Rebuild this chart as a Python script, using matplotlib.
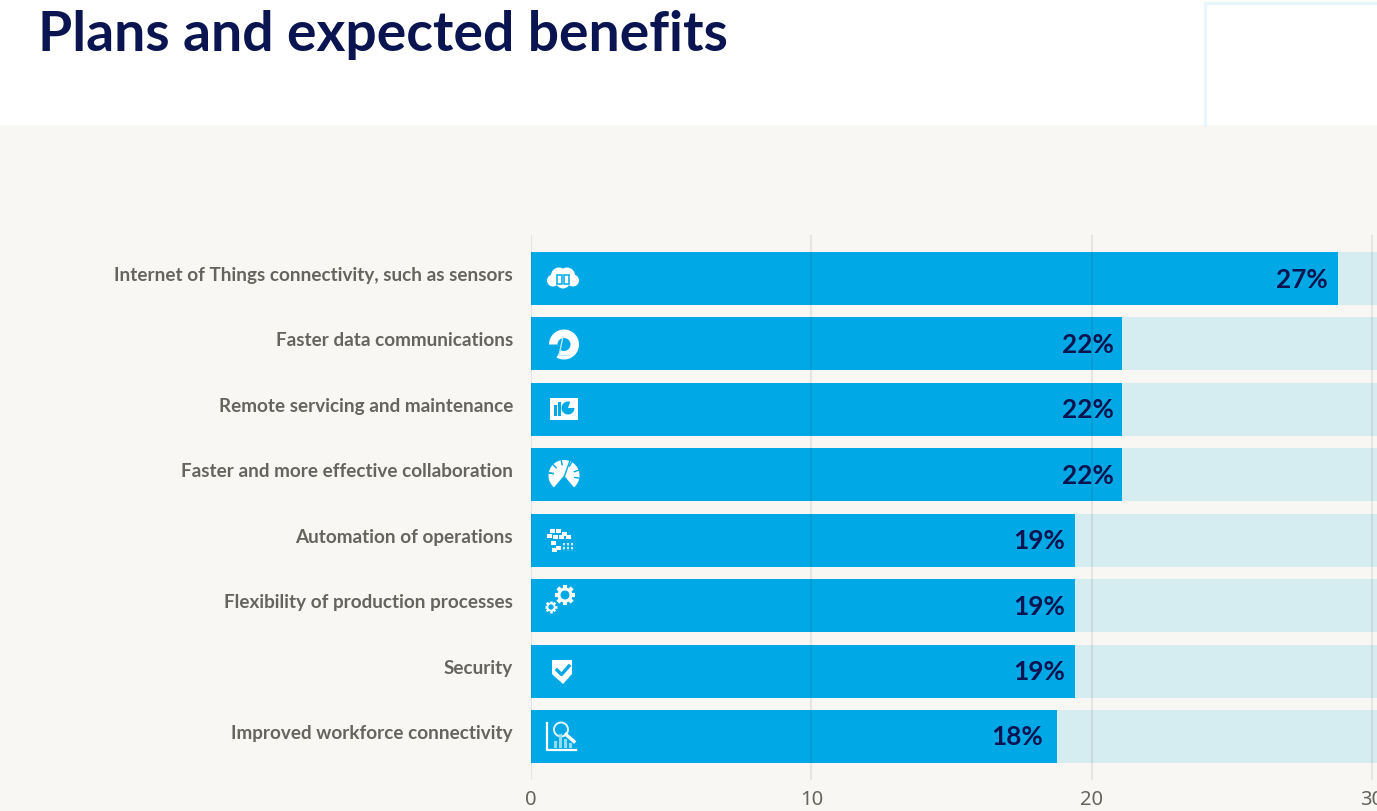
import matplotlib
matplotlib.use("Agg")
import matplotlib.patches as mpatches
import matplotlib.pyplot as plt
import numpy as np

# Values
categories = [
    "Internet of Things connectivity, such as sensors",
    "Faster data communications",
    "Remote servicing and maintenance",
    "Faster and more effective collaboration",
    "Automation of operations",
    "Flexibility of production processes",
    "Security",
    "Improved workforce connectivity",
]
bar_lengths = [28.8, 21.07, 21.07, 21.07, 19.4, 19.4, 19.4, 18.75]
track_lengths = [31, 31, 31, 31, 31, 31, 31, 31]
value_labels = ["27%", "22%", "22%", "22%", "19%", "19%", "19%", "18%"]
x_ticks = [0, 10, 20, 30]

W, H = 1377, 811
NAVY = "#0A1450"
BLUE = "#00A9E6"
TRACK = "#D5ECF0"
PAPER = "#F9F7F3"
GREY = "#66645F"
FONT = "Lato"

fig = plt.figure(figsize=(W / 100, H / 100), dpi=100, facecolor="white")

# full figure layer in pixel coords for background and icons
bg = fig.add_axes([0, 0, 1, 1], zorder=0)
bg.set_xlim(0, W)
bg.set_ylim(H, 0)
bg.axis("off")
bg.add_patch(mpatches.Rectangle((0, 125), W, H - 125, fc=PAPER, ec="none"))
bg.plot([1205, 1205, W], [125, 3, 3], color="#E6F6FB", lw=2.2)
bg.text(38, 35, "Plans and expected benefits", fontsize=39.8, fontweight="bold",
        family=FONT, color=NAVY, va="center", ha="left")

# chart axes, right side runs off the figure
left, right = 531, W
top, bottom = 235, 780
ax = fig.add_axes([left / W, 1 - bottom / H, (right - left) / W, (bottom - top) / H], zorder=1)
ax.patch.set_alpha(0)
y = np.arange(len(categories))
ax.barh(y, track_lengths, height=0.81, color=TRACK, zorder=1)
ax.barh(y, bar_lengths, height=0.81, color=BLUE, zorder=2)
ax.set_xlim(0, (right - left) / 28.03)
ax.set_ylim(7.665, -0.665)
ax.set_xticks(x_ticks)
ax.set_xticklabels([str(t) for t in x_ticks], fontsize=14.5, color=GREY, family="Noto Sans")
ax.set_yticks(y)
ax.set_yticklabels([])
ax.tick_params(axis="y", length=0)
ax.tick_params(axis="x", length=0, pad=7)
for s in ax.spines.values():
    s.set_visible(False)
ax.grid(axis="x", color="black", alpha=0.07, lw=1.5, zorder=3)
ax.set_axisbelow(False)
ax.grid(axis="y", visible=False)

# category labels sit a little above the bar centre
for i, name in enumerate(categories):
    ax.annotate(name, (0, i), xytext=(-18, 3), textcoords="offset pixels", ha="right", va="center",
                fontsize=13.6, fontweight="bold", color=GREY, family=FONT, annotation_clip=False)

# distance of the value text from the bar end differs a bit by row
for i, (v, lab) in enumerate(zip(bar_lengths, value_labels)):
    pad_px = {0: 11, 7: 14}.get(i, 8 if i < 4 else 10)
    ax.annotate(lab, (v, i), xytext=(-pad_px, -1), textcoords="offset pixels", ha="right", va="center",
                fontsize=18.8, fontweight="bold", color=NAVY, family=FONT, zorder=4)

# icon layer
ic = fig.add_axes([0, 0, 1, 1], zorder=2)
ic.set_xlim(0, W)
ic.set_ylim(H, 0)
ic.axis("off")
ic.patch.set_alpha(0)
white = dict(fc="white", ec="none")


def draw_cloud(cx, cy):
    for dx, dy, r in [(-10, 2, 6), (10, 2, 6), (-4, -3, 8), (4, -3, 8), (0, 3, 7)]:
        ic.add_patch(mpatches.Circle((cx + dx, cy + dy), r, **white))
    ic.add_patch(mpatches.Rectangle((cx - 6, cy - 4), 5, 9, fc="none", ec=BLUE, lw=1.1))
    ic.add_patch(mpatches.Rectangle((cx + 1, cy - 4), 5, 9, fc="none", ec=BLUE, lw=1.1))


def draw_ring(cx, cy):
    ic.add_patch(mpatches.Wedge((cx, cy + 1), 15, 180, 480, width=8.5, **white))
    ic.plot([cx - 1, cx - 5, cx + 5], [cy - 7, cy + 12, cy + 12], color="#BFEAF8", lw=1)


def draw_panel(cx, cy):
    ic.add_patch(mpatches.Rectangle((cx - 14, cy - 11), 28, 22, **white))
    ic.add_patch(mpatches.Rectangle((cx - 10, cy - 4), 2.5, 11, fc=BLUE, ec="none"))
    ic.add_patch(mpatches.Rectangle((cx - 6, cy - 7), 2.5, 14, fc=BLUE, ec="none"))
    ic.add_patch(mpatches.Wedge((cx + 4, cy - 1), 6.5, 0, 290, fc=BLUE, ec="none"))


def draw_gauge(cx, cy):
    ic.add_patch(mpatches.Wedge((cx, cy + 1), 15.5, 130, 410, **white))
    ic.add_patch(mpatches.Polygon([(cx - 7, cy + 16), (cx - 1, cy + 6), (cx + 1, cy + 6), (cx + 7, cy + 16)],
                                  fc=BLUE, ec="none"))
    ic.plot([cx, cx + 6], [cy + 3, cy - 14], color=BLUE, lw=1)
    for a in np.radians([-170, -135, -100, -60, -20, 10, 190]):
        ic.plot([cx + 11 * np.cos(a), cx + 15 * np.cos(a)],
                [cy + 1 + 11 * np.sin(a), cy + 1 + 15 * np.sin(a)], color=BLUE, lw=1)


def draw_blocks(cx, cy):
    for dx, dy in [(-7, -9), (-1, -9), (5, -6), (-10, -4), (-4, -3), (2, -3), (9, -3), (-6, 3), (-1, 8), (-5, 10)]:
        ic.add_patch(mpatches.Rectangle((cx + dx - 2, cy + dy - 2), 4.5, 4.5, **white))
    for dx in (5, 9, 13):
        ic.plot([cx + dx, cx + dx], [cy + 3, cy + 11], color="#D8F2FB", lw=1.4, ls=(0, (1.2, 0.8)))


def draw_gear(cx, cy, r):
    for a in np.radians(np.arange(0, 360, 45)):
        ic.plot([cx, cx + r * 1.35 * np.cos(a)], [cy, cy + r * 1.35 * np.sin(a)],
                color="white", lw=r * 0.4, solid_capstyle="butt", zorder=1)
    ic.add_patch(mpatches.Circle((cx, cy), r, zorder=2, **white))
    ic.add_patch(mpatches.Circle((cx, cy), r * 0.6, fc=BLUE, ec="none", zorder=3))


def draw_shield(cx, cy):
    ic.add_patch(mpatches.Polygon([(cx - 10, cy - 11), (cx + 10, cy - 11), (cx + 10, cy + 3), (cx + 1, cy + 13),
                                   (cx - 10, cy + 3)], **white))
    ic.plot([cx - 5, cx - 0.5, cx + 7], [cy - 1, cy + 3.5, cy - 5], color=BLUE, lw=2.4)


def draw_search(cx, cy):
    ic.plot([cx - 14, cx - 14, cx + 15], [cy - 14, cy + 13, cy + 13], color="white", lw=1.6)
    ic.add_patch(mpatches.Circle((cx, cy - 7), 7, fc="none", ec="#E3F6FC", lw=1.4))
    ic.plot([cx + 5, cx + 13], [cy - 2, cy + 5], color="white", lw=2.4)
    for dx, h in [(-7, 7), (-2, 14), (3, 9), (8, 5)]:
        ic.add_patch(mpatches.Rectangle((cx + dx, cy + 11 - h), 3, h, fc="#8FDCF5", ec="none"))


rows = [278.5, 343.5, 409, 474.5, 539.5, 605, 671, 736.5]
draw_cloud(563, rows[0])
draw_ring(564, rows[1])
draw_panel(564, rows[2])
draw_gauge(564, rows[3])
draw_blocks(559, rows[4])
draw_gear(565, 595, 7.5)
draw_gear(551, 607, 4.5)
draw_shield(562, rows[6])
draw_search(561, rows[7])

fig.savefig("out.png", dpi=100, facecolor="white")
